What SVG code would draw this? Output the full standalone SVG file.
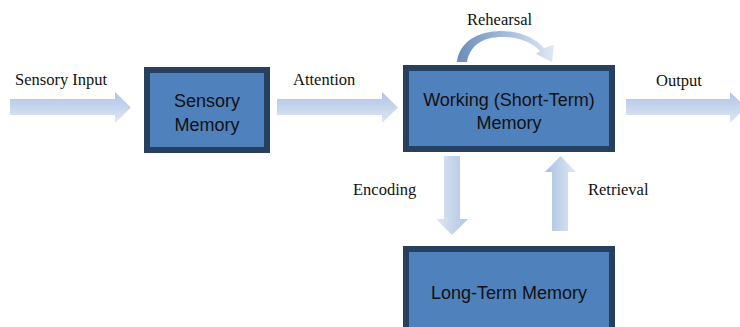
<svg xmlns="http://www.w3.org/2000/svg" width="740" height="327" viewBox="0 0 740 327">
  <style>
    .box { fill: #4f81bd; stroke: #27405f; stroke-width: 6; }
    .boxtext { font-family: "Liberation Sans", Arial, sans-serif; font-size: 18px; fill: #111111; text-anchor: middle; }
    .label { font-family: "Liberation Serif", "Times New Roman", serif; font-size: 16.5px; fill: #111111; }
  </style>
  <defs>
    <!-- horizontal block arrows: deeper tone on the upper side -->
    <linearGradient id="gradH" x1="0" y1="0" x2="0" y2="1">
      <stop offset="0" stop-color="#afc4e6"/>
      <stop offset="1" stop-color="#dfe7f4"/>
    </linearGradient>
    <!-- downward arrow: deeper tone on the right -->
    <linearGradient id="gradDown" x1="0" y1="0" x2="1" y2="0">
      <stop offset="0" stop-color="#dfe7f4"/>
      <stop offset="1" stop-color="#afc4e6"/>
    </linearGradient>
    <!-- upward arrow: deeper tone on the left -->
    <linearGradient id="gradUp" x1="0" y1="0" x2="1" y2="0">
      <stop offset="0" stop-color="#a9c0e3"/>
      <stop offset="1" stop-color="#e0e8f4"/>
    </linearGradient>
    <!-- curved loop arrow -->
    <linearGradient id="gradLoop" x1="0" y1="0" x2="1" y2="0">
      <stop offset="0" stop-color="#6a8cb8"/>
      <stop offset="0.5" stop-color="#a4bcdc"/>
      <stop offset="1" stop-color="#dfe8f4"/>
    </linearGradient>
  </defs>

  <!-- connectors -->
  <g id="connectors">
    <g id="sensory-input">
      <path d="M10,99 H115 V92 L131,107.5 L115,123 V115 H10 Z" fill="url(#gradH)"/>
      <text class="label" x="15" y="85">Sensory Input</text>
    </g>
    <g id="attention">
      <path d="M277,99 H382 V92 L398,107.5 L382,123 V115 H277 Z" fill="url(#gradH)"/>
      <text class="label" x="293" y="85">Attention</text>
    </g>
    <g id="output">
      <path d="M626,99 H730 V92 L746,107.5 L730,123 V115 H626 Z" fill="url(#gradH)"/>
      <text class="label" x="656" y="86">Output</text>
    </g>
    <g id="encoding">
      <path d="M444,156 H460 V219 H468 L452,235 L436,219 H444 Z" fill="url(#gradDown)"/>
      <text class="label" x="353" y="195">Encoding</text>
    </g>
    <g id="retrieval">
      <path d="M552,231 V172 H545 L560.5,156 L576,172 H568 V231 Z" fill="url(#gradUp)"/>
      <text class="label" x="588" y="195">Retrieval</text>
    </g>
    <g id="rehearsal">
      <path d="M457,62 C459,42 478,31 501,31 C520,31 535,38 544,48 L554,45 L552,62 L536,54 L540,51 C532,42 519,37 502,37 C483,37 470,45 467,62 Z" fill="url(#gradLoop)"/>
      <text class="label" x="467" y="25">Rehearsal</text>
    </g>
  </g>

  <!-- nodes -->
  <g id="sensory-memory">
    <rect class="box" x="147" y="70" width="120" height="80"/>
    <text class="boxtext" x="207" y="107">Sensory</text>
    <text class="boxtext" x="207" y="131">Memory</text>
  </g>
  <g id="working-memory">
    <rect class="box" x="406" y="68" width="206" height="81"/>
    <text class="boxtext" x="509" y="106">Working (Short-Term)</text>
    <text class="boxtext" x="509" y="129">Memory</text>
  </g>
  <g id="long-term-memory">
    <rect class="box" x="406" y="249" width="206" height="100"/>
    <text class="boxtext" x="509" y="299">Long-Term Memory</text>
  </g>
</svg>
